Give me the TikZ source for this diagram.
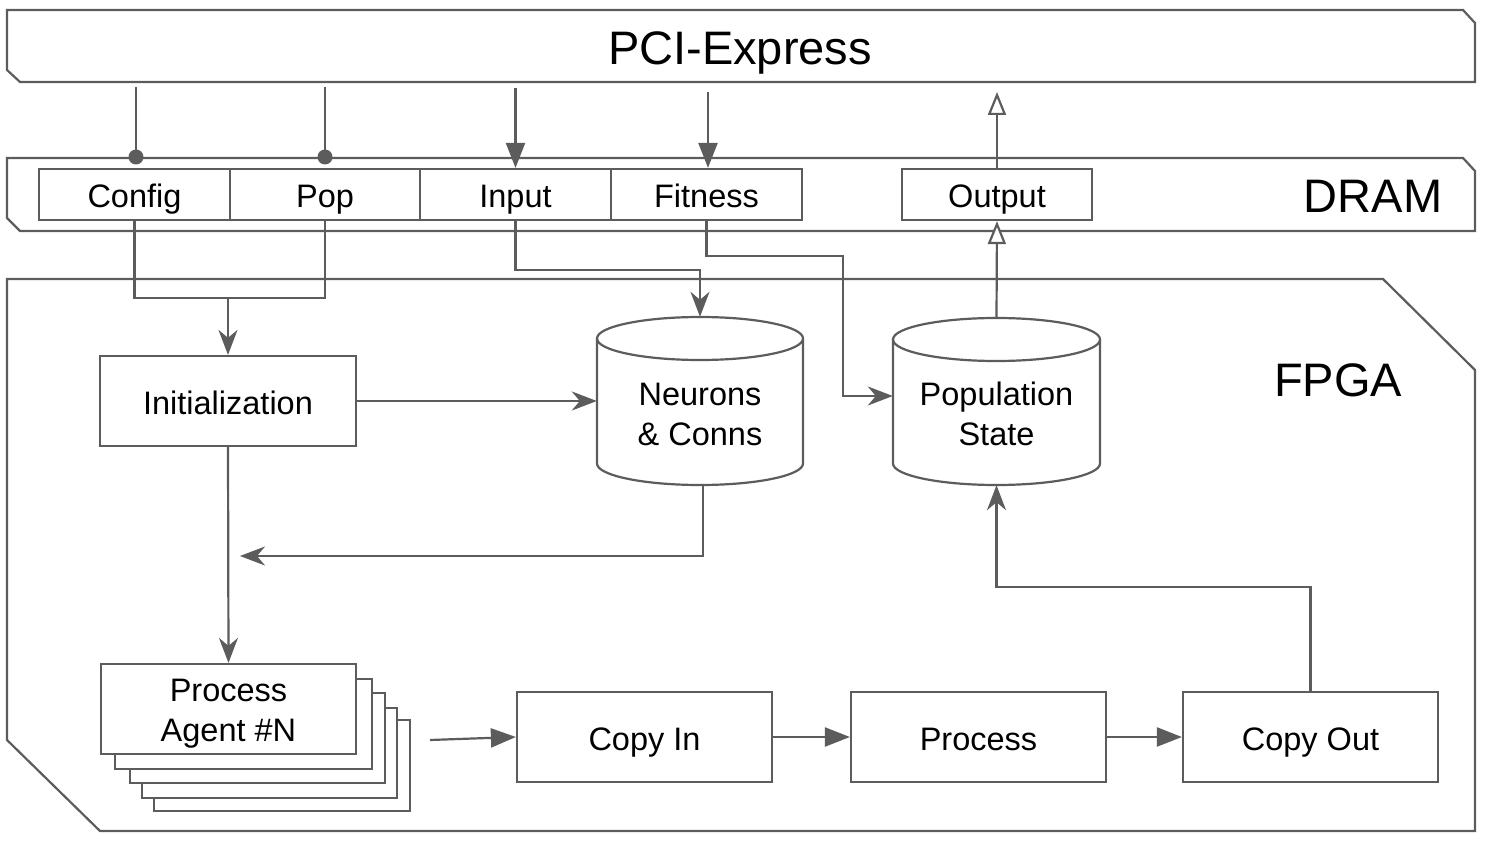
\documentclass[tikz,border=0pt]{standalone}
\usepackage{fontspec}
\setmainfont{Liberation Sans}
\usetikzlibrary{arrows.meta,calc}
\definecolor{lin}{RGB}{92,92,92}
\tikzset{
  ln/.style={draw=lin,line width=2.2pt},
  arr/.style={ln,-{Stealth[length=25pt,width=19pt,inset=8pt]}},
  barr/.style={ln,-{Triangle[length=25pt,width=19pt]}},
  oarr/.style={ln,-{Triangle[open,length=23pt,width=18pt,fill=white]}},
  box/.style={ln,fill=white,rectangle,inner sep=0pt,font=\fontsize{32.5}{40}\selectfont,align=center,text height=27pt,text depth=0pt},
  ebox/.style={ln,fill=white,rectangle,inner sep=0pt},
  bigtxt/.style={font=\fontsize{47}{52}\selectfont,inner sep=0pt,text height=33.7pt,text depth=0pt},
  txt/.style={font=\fontsize{32.5}{40}\selectfont,align=center,inner sep=0pt},
  ghost/.style={rectangle,draw=none,inner sep=0pt},
}
\begin{document}
\begin{tikzpicture}[x=1pt,y=-1pt]
\useasboundingbox (0,0) rectangle (1486,842);
% outer shapes
\draw[ln,fill=white] (7,279) -- (1383,279) -- (1475,370) -- (1475,831) -- (100,831) -- (7,740) -- cycle;
\draw[ln] (7,10) -- (1463,10) -- (1475,23) -- (1475,82) -- (20,82) -- (7,70) -- cycle;
\draw[ln] (7,158) -- (1463,158) -- (1475,171) -- (1475,231) -- (20,231) -- (7,218) -- cycle;
\node[bigtxt] (pcil) at (740,48) {PCI-Express};
\node[bigtxt] (drml) at (1373,196) {DRAM};
\node[bigtxt] (fpgal) at (1338,380) {FPGA};
% DRAM boxes
\node[box,minimum width=191pt,minimum height=51pt] (config) at (134.5,194.5) {Config};
\node[box,minimum width=190pt,minimum height=51pt] (pop) at (325,194.5) {Pop};
\node[box,minimum width=191pt,minimum height=51pt] (input) at (515.5,194.5) {Input};
\node[box,minimum width=191pt,minimum height=51pt] (fitness) at (706.5,194.5) {Fitness};
\node[box,minimum width=190pt,minimum height=51pt] (output) at (997,194.5) {Output};
% FPGA boxes
\node[box,minimum width=256pt,minimum height=90pt] (init) at (228,401) {Initialization};
% cylinders
\node[ghost,minimum width=206pt,minimum height=168pt] (neur) at (700,401) {};
\node[ghost,minimum width=207pt,minimum height=167pt] (popst) at (996.5,401.5) {};
\draw[ln,fill=white] (597,338.5) -- (597,463.5) arc[start angle=180,end angle=360,x radius=103,y radius=-21.5] -- (803,338.5) arc[start angle=0,end angle=180,x radius=103,y radius=-21.5] -- cycle;
\draw[ln] (597,338.5) arc[start angle=180,end angle=360,x radius=103,y radius=-21.5];
\draw[ln,fill=white] (893,339.5) -- (893,463.5) arc[start angle=180,end angle=360,x radius=103.5,y radius=-21.5] -- (1100,339.5) arc[start angle=0,end angle=180,x radius=103.5,y radius=-21.5] -- cycle;
\draw[ln] (893,339.5) arc[start angle=180,end angle=360,x radius=103.5,y radius=-21.5];
\node[txt] (neurl) at (700,414) {Neurons\\\& Conns};
\node[txt] (popl) at (996.5,414) {Population\\State};
% agent stack
\draw[ln,fill=white] (154,720) rectangle (410,811);
\draw[ln,fill=white] (142,708) rectangle (397,798);
\draw[ln,fill=white] (130,693) rectangle (385,783);
\draw[ln,fill=white] (115,679) rectangle (372,769);
\node[ebox,minimum width=255pt,minimum height=90pt] (agent) at (228.5,709) {};
\node[txt] (agentl) at (228.5,714) {Process\\Agent \#N};
\node[box,minimum width=255pt,minimum height=90pt] (copyin) at (644.5,737) {Copy In};
\node[box,minimum width=255pt,minimum height=90pt] (process) at (978.5,737) {Process};
\node[box,minimum width=255pt,minimum height=90pt] (copyout) at (1310.5,737) {Copy Out};
% PCI <-> DRAM
\coordinate (cfgTop) at (136,87);
\coordinate (cfgDot) at (136,157);
\coordinate (popTop) at (325,87);
\coordinate (popDot) at (325,157);
\draw[ln] (cfgTop) -- (cfgDot);
\fill[lin] (cfgDot) circle (7.5);
\draw[ln] (popTop) -- (popDot);
\fill[lin] (popDot) circle (7.5);
\coordinate (inTop) at (515.5,88);
\draw[barr] (inTop) -- (input.north);
\coordinate (fitTop) at (708,92);
\draw[barr] (fitTop) -- (fitTop |- fitness.north);
\coordinate (outTop) at (997,92);
\draw[oarr] (output.north) -- (outTop);
\draw[oarr] (popst.north) -- (output.south);
% DRAM -> FPGA
\coordinate (cj) at (228,298);
\draw[ln] (config.south) |- (cj);
\draw[ln] (pop.south) |- (cj);
\draw[arr] (cj) -- (init.north);
\draw[arr] (input.south) -- ++(0,49) -| (neur.north);
\coordinate (fbend) at (843,396);
\draw[arr] (fitness.south) -- ++(0,35) -| (fbend) -- (fbend -| popst.west);
% internal
\draw[arr] (init.east) -- (neur.west);
\coordinate (fb) at (240,556);
\draw[arr] ($(neur.south)+(3,0)$) |- (fb);
\draw[arr] (init.south) -- (agent.north);
\coordinate (as) at (430,740);
\draw[barr] (as) -- (copyin.west);
\draw[barr] (copyin.east) -- (process.west);
\draw[barr] (process.east) -- (copyout.west);
\draw[arr] (copyout.north) -- ++(0,-104) -| (popst.south);
\end{tikzpicture}
\end{document}
